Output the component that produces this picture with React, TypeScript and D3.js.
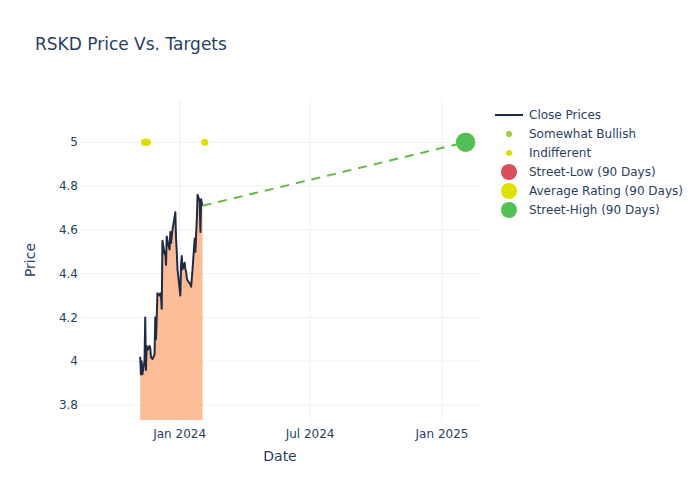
import * as d3 from 'd3'

const closeDates = [
  '2023-11-07', '2023-11-08', '2023-11-09', '2023-11-10', '2023-11-13', '2023-11-14', '2023-11-15',
  '2023-11-16', '2023-11-17', '2023-11-20', '2023-11-21', '2023-11-22', '2023-11-24', '2023-11-27',
  '2023-11-28', '2023-11-29', '2023-11-30', '2023-12-01', '2023-12-04', '2023-12-05', '2023-12-06',
  '2023-12-07', '2023-12-08', '2023-12-11', '2023-12-12', '2023-12-13', '2023-12-14', '2023-12-15',
  '2023-12-18', '2023-12-19', '2023-12-20', '2023-12-21', '2023-12-22', '2023-12-26', '2023-12-27',
  '2023-12-28', '2023-12-29', '2024-01-02', '2024-01-03', '2024-01-04', '2024-01-05', '2024-01-08',
  '2024-01-09', '2024-01-10', '2024-01-11', '2024-01-12', '2024-01-16', '2024-01-17', '2024-01-18',
  '2024-01-19', '2024-01-22', '2024-01-23', '2024-01-24', '2024-01-25', '2024-01-26', '2024-01-29',
  '2024-01-30', '2024-01-31', '2024-02-01', '2024-02-02',
]
const closePrices = [
  4.02, 3.94, 4.0, 3.94, 4.0, 4.2, 3.96,
  4.07, 4.05, 4.07, 4.06, 4.02, 4.01, 4.03,
  4.2, 4.1, 4.2, 4.31, 4.3, 4.31, 4.3,
  4.24, 4.55, 4.49, 4.5, 4.44, 4.57, 4.55,
  4.51, 4.59, 4.54, 4.57, 4.6, 4.68, 4.56,
  4.5, 4.42, 4.3, 4.44, 4.48, 4.42, 4.45,
  4.42, 4.41, 4.38, 4.37, 4.35, 4.34, 4.38,
  4.42, 4.56, 4.5, 4.58, 4.65, 4.76, 4.73,
  4.59, 4.74, 4.72, 4.71,
]

const somewhatBullishDates = ['2023-11-15']
const somewhatBullishTargets = [5]
const indifferentDates = ['2023-11-13', '2023-11-15', '2023-11-17', '2024-02-05']
const indifferentTargets = [5, 5, 5, 5]

const targetDate = '2025-02-03'
const streetLow = 5
const averageRating = 5
const streetHigh = 5

const xTicks = ['2024-01-01', '2024-07-01', '2025-01-01']
const yTicks = [3.8, 4, 4.2, 4.4, 4.6, 4.8, 5]

const legendItems = [
  { label: 'Close Prices', kind: 'line', color: '#1f2a44' },
  { label: 'Somewhat Bullish', kind: 'small', color: '#9acd32' },
  { label: 'Indifferent', kind: 'small', color: '#dede00' },
  { label: 'Street-Low (90 Days)', kind: 'big', color: '#d9505a' },
  { label: 'Average Rating (90 Days)', kind: 'big', color: '#dfdf00' },
  { label: 'Street-High (90 Days)', kind: 'big', color: '#50c158' },
]

const W = 700
const H = 500
const M = { l: 80, r: 220, t: 100, b: 80 }
const font = '"DejaVu Sans", Verdana, sans-serif'
const textColor = '#2a3f5f'
const gridColor = '#ebf0f8'

const parse = d3.utcParse('%Y-%m-%d')

export default function App() {
  const x = d3
    .scaleUtc()
    .domain([parse('2023-08-15')!, parse('2025-02-23')!])
    .range([M.l, W - M.r])
  const y = d3.scaleLinear().domain([3.7315, 5.193]).range([H - M.b, M.t])

  const closes = closeDates.map((d, i) => ({ date: parse(d)!, value: closePrices[i] }))
  const line = d3
    .line<{ date: Date; value: number }>()
    .x(d => x(d.date))
    .y(d => y(d.value))
  const area = d3
    .area<{ date: Date; value: number }>()
    .x(d => x(d.date))
    .y0(H - M.b)
    .y1(d => y(d.value))

  const last = closes[closes.length - 1]
  const tx = x(parse(targetDate)!)
  const fmt = d3.utcFormat('%b %Y')

  return (
    <svg width={W} height={H} style={{ display: 'block', position: 'absolute', left: 0, top: 0 }} fontFamily={font}>
      <defs>
        <clipPath id="plot">
          <rect x={M.l} y={M.t} width={W - M.l - M.r} height={H - M.t - M.b} />
        </clipPath>
      </defs>
      <rect width={W} height={H} fill="#fff" />
      {yTicks.map(t => (
        <g key={t}>
          <line x1={M.l} x2={W - M.r} y1={y(t)} y2={y(t)} stroke={gridColor} strokeWidth={1} />
          <text x={M.l - 2} y={y(t)} dy="0.35em" textAnchor="end" fontSize={12} fill={textColor}>
            {t}
          </text>
        </g>
      ))}
      {xTicks.map(t => {
        const d = parse(t)!
        return (
          <g key={t}>
            <line x1={x(d)} x2={x(d)} y1={M.t} y2={H - M.b} stroke={gridColor} strokeWidth={1} />
            <text x={x(d)} y={H - M.b + 18} textAnchor="middle" fontSize={12} fill={textColor}>
              {fmt(d)}
            </text>
          </g>
        )
      })}
      <g clipPath="url(#plot)">
        <path d={area(closes)!} fill="#fbb890" fillOpacity={0.95} />
        <path d={line(closes)!} fill="none" stroke="#1f2a44" strokeWidth={2} strokeLinejoin="round" />
        <line
          x1={x(last.date)}
          y1={y(last.value)}
          x2={tx}
          y2={y(streetHigh)}
          stroke="#62bd45"
          strokeWidth={2}
          strokeDasharray="9,7"
        />
        {somewhatBullishDates.map((d, i) => (
          <circle key={'sb' + i} cx={x(parse(d)!)} cy={y(somewhatBullishTargets[i])} r={3.5} fill="#9acd32" />
        ))}
        {indifferentDates.map((d, i) => (
          <circle key={'in' + i} cx={x(parse(d)!)} cy={y(indifferentTargets[i])} r={3.5} fill="#dede00" />
        ))}
        <circle cx={tx} cy={y(streetLow)} r={9.5} fill="#d9505a" />
        <circle cx={tx} cy={y(averageRating)} r={9.5} fill="#dfdf00" />
        <circle cx={tx} cy={y(streetHigh)} r={9.5} fill="#50c158" />
      </g>
      <text x={35} y={50} fontSize={17} fill={textColor}>
        RSKD Price Vs. Targets
      </text>
      <text x={(M.l + W - M.r) / 2} y={461} textAnchor="middle" fontSize={14} fill={textColor}>
        Date
      </text>
      <text
        transform={`translate(35,${(M.t + H - M.b) / 2}) rotate(-90)`}
        textAnchor="middle"
        fontSize={14}
        fill={textColor}
      >
        Price
      </text>
      <g transform="translate(495,115)">
        {legendItems.map((it, i) => (
          <g key={it.label} transform={`translate(0,${i * 19})`}>
            {it.kind === 'line' ? (
              <line x1={0} x2={28} y1={0} y2={0} stroke={it.color} strokeWidth={2} />
            ) : (
              <circle cx={14} cy={0} r={it.kind === 'small' ? 3 : 8} fill={it.color} />
            )}
            <text x={34} y={0} dy="0.35em" fontSize={12} fill={textColor}>
              {it.label}
            </text>
          </g>
        ))}
      </g>
    </svg>
  )
}
